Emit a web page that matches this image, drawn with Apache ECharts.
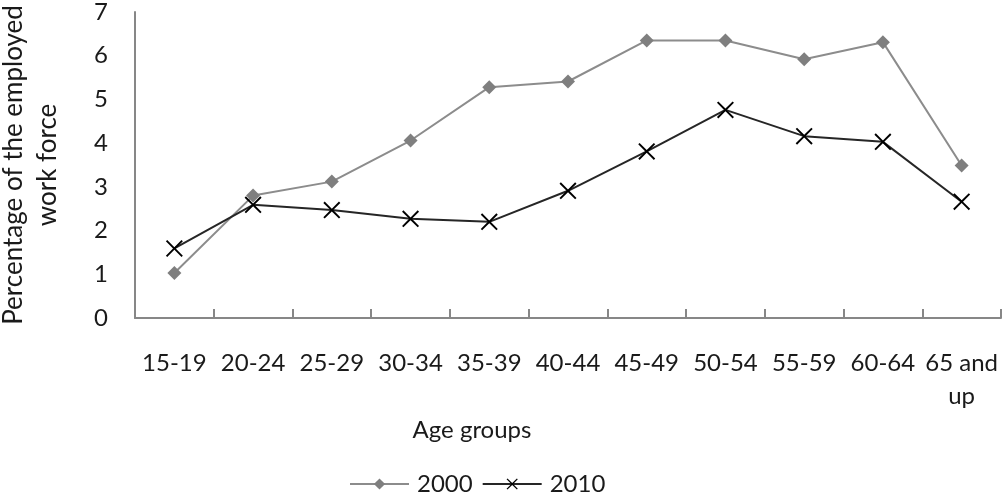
<!DOCTYPE html>
<html>
<head>
<meta charset="utf-8">
<script src="https://cdn.jsdelivr.net/npm/echarts@6/dist/echarts.min.js"></script>
<style>
html,body{margin:0;padding:0;background:#fff;}
#chart{width:1004px;height:495px;}
</style>
</head>
<body>
<div id="chart"></div>
<script>
const categories = ['15-19','20-24','25-29','30-34','35-39','40-44','45-49','50-54','55-59','60-64','65 and\nup'];
const values2000 = [1.03, 2.80, 3.12, 4.06, 5.28, 5.41, 6.35, 6.35, 5.92, 6.31, 3.49];
const values2010 = [1.59, 2.59, 2.47, 2.27, 2.20, 2.91, 3.81, 4.76, 4.16, 4.03, 2.66];
const yTicks = [0, 1, 2, 3, 4, 5, 6, 7];
const seriesNames = ['2000', '2010'];

const FONT = 'Lato';
const xSymbol = 'path://M0,8L8,0L50,42L92,0L100,8L58,50L100,92L92,100L50,58L8,100L0,92L42,50Z';

const chart = echarts.init(document.getElementById('chart'), null, {renderer: 'canvas'});
chart.setOption({
  animation: false,
  backgroundColor: '#ffffff',
  textStyle: {fontFamily: FONT},
  grid: {left: 135, right: 3, top: 12, bottom: 177, containLabel: false, outerBoundsMode: 'none'},
  legend: {
    data: seriesNames,
    left: 344,
    top: 467,
    itemWidth: 59,
    itemHeight: 14,
    itemGap: 9,
    textStyle: {fontFamily: FONT, fontSize: 24, color: '#1a1a1a', padding: [0, 0, 0, 3]}
  },
  xAxis: {
    type: 'category',
    data: categories,
    boundaryGap: true,
    name: 'Age groups',
    nameLocation: 'middle',
    nameGap: 89,
    nameTextStyle: {fontFamily: FONT, fontSize: 24, color: '#1a1a1a', padding: [0, 192, 0, 0]},
    axisLine: {show: true, lineStyle: {color: '#878787', width: 2}},
    axisTick: {show: true, inside: true, length: 9, lineStyle: {color: '#878787', width: 2}},
    axisLabel: {fontFamily: FONT, fontSize: 24, color: '#1a1a1a', margin: 29, lineHeight: 33, interval: 0},
    splitLine: {show: false}
  },
  yAxis: {
    type: 'value',
    min: yTicks[0],
    max: yTicks[yTicks.length - 1],
    interval: 1,
    name: 'Percentage of the employed\nwork force',
    nameLocation: 'middle',
    nameGap: 70,
    nameTextStyle: {fontFamily: FONT, fontSize: 26, color: '#1a1a1a', lineHeight: 34},
    axisLine: {show: true, lineStyle: {color: '#878787', width: 2}},
    axisTick: {show: false},
    axisLabel: {fontFamily: FONT, fontSize: 24, color: '#1a1a1a', margin: 27},
    splitLine: {show: false}
  },
  series: [
    {
      name: seriesNames[0],
      type: 'line',
      data: values2000,
      symbol: 'diamond',
      symbolSize: 14,
      showAllSymbol: true,
      lineStyle: {color: '#8c8c8c', width: 2},
      itemStyle: {color: '#7f7f7f'}
    },
    {
      name: seriesNames[1],
      type: 'line',
      data: values2010,
      symbol: xSymbol,
      symbolSize: 17,
      showAllSymbol: true,
      lineStyle: {color: '#262626', width: 2},
      itemStyle: {color: '#000000'}
    }
  ]
});
</script>
</body>
</html>
